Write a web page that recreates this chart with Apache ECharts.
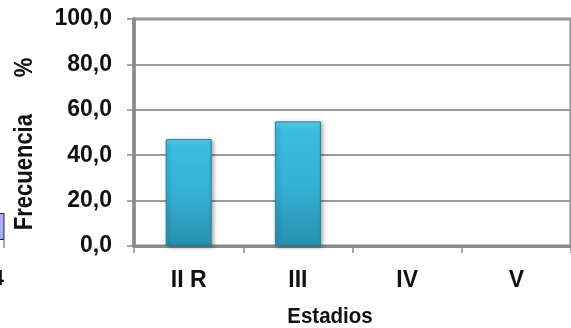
<!DOCTYPE html>
<html>
<head>
<meta charset="utf-8">
<script src="https://cdn.jsdelivr.net/npm/echarts@6/dist/echarts.min.js"></script>
<style>
  html, body { margin: 0; padding: 0; background: #ffffff; }
  #chart { width: 571px; height: 328px; }
</style>
</head>
<body>
<div id="chart"></div>
<script>
// Frecuencia (%) por estadio
const estadios = ['II R', 'III', 'IV', 'V'];
const frecuencia = [47.1, 54.9, null, null];
const yMin = 0;
const yMax = 100;
const yStep = 20;

const FONT = '"Liberation Sans", Arial, sans-serif';
const AXIS_GREY = '#8a8a8a';

const chart = echarts.init(document.getElementById('chart'), null, { renderer: 'canvas' });

chart.setOption({
  animation: false,
  backgroundColor: '#ffffff',
  grid: {
    left: 134, top: 19, right: -11, bottom: 82,
    show: true, borderColor: AXIS_GREY, borderWidth: 3, backgroundColor: 'transparent'
  },
  xAxis: {
    type: 'category',
    data: estadios,
    boundaryGap: true,
    axisLine: { show: true, lineStyle: { color: AXIS_GREY, width: 3 } },
    axisTick: { show: true, alignWithLabel: false, length: 7, lineStyle: { color: AXIS_GREY, width: 1.5 } },
    axisLabel: {
      margin: 23,
      color: '#111',
      fontFamily: FONT,
      fontWeight: 'bold',
      fontSize: 23
    },
    splitLine: { show: false }
  },
  yAxis: {
    type: 'value',
    min: yMin,
    max: yMax,
    interval: yStep,
    axisLine: { show: true, lineStyle: { color: AXIS_GREY, width: 3.5 } },
    axisTick: { show: true, length: 7, lineStyle: { color: AXIS_GREY, width: 1.5 } },
    axisLabel: {
      margin: 22,
      color: '#111',
      fontFamily: FONT,
      fontWeight: 'bold',
      fontSize: 23,
      formatter: v => v.toFixed(1).replace('.', ',')
    },
    splitLine: { show: true, lineStyle: { color: '#9a9a9a', width: 2 } }
  },
  series: [{
    type: 'bar',
    data: frecuencia,
    barWidth: 46,
    itemStyle: {
      color: new echarts.graphic.LinearGradient(0, 0, 0, 1, [
        { offset: 0, color: '#62d6f2' },
        { offset: 0.06, color: '#3cbde2' },
        { offset: 0.5, color: '#34b1d6' },
        { offset: 1, color: '#2990ae' }
      ]),
      borderColor: '#23809b',
      borderWidth: 1,
      shadowColor: 'rgba(0,0,0,0.35)',
      shadowBlur: 4,
      shadowOffsetX: 2,
      shadowOffsetY: 1
    }
  }],
  graphic: [
    {
      type: 'text',
      x: 25, y: 144,
      rotation: Math.PI / 2,
      scaleY: 1.15,
      style: {
        text: 'Frecuencia      %',
        font: 'bold 22px ' + FONT,
        fill: '#111',
        align: 'center',
        verticalAlign: 'middle'
      }
    },
    {
      type: 'text',
      x: 330, y: 317,
      scaleY: 1.12,
      style: {
        text: 'Estadios',
        font: 'bold 20.5px ' + FONT,
        fill: '#111',
        align: 'center',
        verticalAlign: 'middle'
      }
    },
    {
      type: 'rect',
      shape: { x: -10, y: 213.5, width: 14, height: 26 },
      style: { fill: '#a9aaff', stroke: '#222', lineWidth: 1 }
    },
    {
      type: 'line',
      shape: { x1: 4, y1: 240, x2: 4, y2: 248 },
      style: { stroke: '#555', lineWidth: 1 }
    },
    {
      type: 'text',
      x: 4, y: 279,
      style: {
        text: '4',
        font: 'bold 22px ' + FONT,
        fill: '#111',
        align: 'right',
        verticalAlign: 'middle'
      }
    }
  ]
});
</script>
</body>
</html>
